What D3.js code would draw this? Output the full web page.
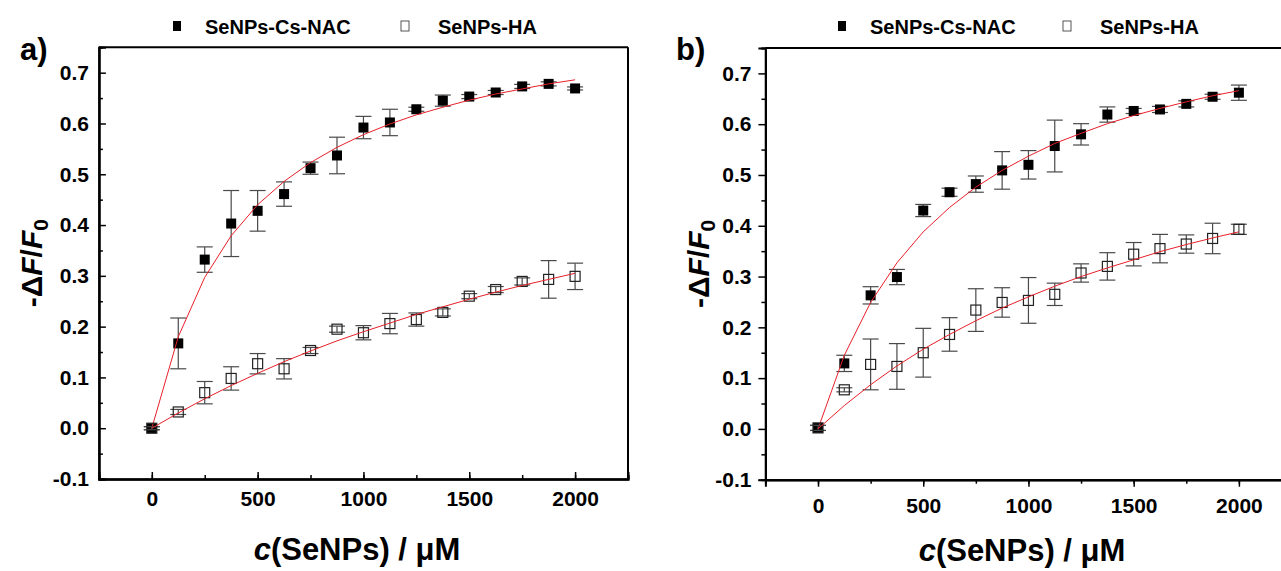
<!DOCTYPE html>
<html>
<head>
<meta charset="utf-8">
<script src="https://cdn.jsdelivr.net/npm/d3@7"></script>
<style>
  body { margin: 0; background: #fff; }
  text { font-family: "Liberation Sans", Arial, sans-serif; font-weight: bold; fill: #000; }
</style>
</head>
<body>
<svg id="chart" width="1281" height="571"></svg>
<script>
// concentrations (µM)
var conc = [0, 125, 250, 375, 500, 625, 750, 875, 1000, 1125, 1250, 1375, 1500, 1625, 1750, 1875, 2000];

// panel a
var nacA    = [0.000, 0.167, 0.332, 0.403, 0.428, 0.461, 0.512, 0.537, 0.592, 0.602, 0.628, 0.645, 0.653, 0.661, 0.673, 0.678, 0.669];
var nacAErr = [0.003, 0.050, 0.025, 0.065, 0.040, 0.024, 0.012, 0.036, 0.022, 0.026, 0.004, 0.011, 0.004, 0.004, 0.004, 0.004, 0.003];
var haA     = [0.000, 0.032, 0.070, 0.098, 0.127, 0.117, 0.153, 0.195, 0.188, 0.206, 0.214, 0.228, 0.260, 0.273, 0.289, 0.293, 0.299];
var haAErr  = [0.003, 0.005, 0.022, 0.023, 0.020, 0.020, 0.006, 0.006, 0.014, 0.020, 0.013, 0.007, 0.005, 0.006, 0.007, 0.037, 0.026];
var fitNacA = [0, 0.180, 0.297, 0.379, 0.440, 0.486, 0.523, 0.553, 0.578, 0.599, 0.617, 0.632, 0.646, 0.658, 0.668, 0.678, 0.686];
var fitHaA  = [0, 0.030, 0.058, 0.084, 0.108, 0.131, 0.152, 0.172, 0.190, 0.207, 0.224, 0.239, 0.254, 0.268, 0.281, 0.293, 0.305];

// panel b
var nacB    = [0.002, 0.129, 0.263, 0.299, 0.430, 0.466, 0.482, 0.509, 0.520, 0.557, 0.580, 0.619, 0.626, 0.629, 0.640, 0.654, 0.662];
var nacBErr = [0.005, 0.016, 0.017, 0.015, 0.012, 0.008, 0.016, 0.037, 0.028, 0.051, 0.021, 0.015, 0.005, 0.006, 0.006, 0.005, 0.015];
var haB     = [0.002, 0.077, 0.127, 0.123, 0.150, 0.186, 0.234, 0.249, 0.253, 0.265, 0.307, 0.320, 0.344, 0.355, 0.364, 0.375, 0.393];
var haBErr  = [0.005, 0.004, 0.050, 0.045, 0.048, 0.033, 0.042, 0.029, 0.045, 0.022, 0.018, 0.027, 0.023, 0.028, 0.018, 0.030, 0.010];
var fitNacB = [0, 0.145, 0.249, 0.327, 0.388, 0.436, 0.476, 0.509, 0.537, 0.562, 0.582, 0.601, 0.617, 0.631, 0.644, 0.656, 0.666];
var fitHaB  = [0, 0.046, 0.087, 0.124, 0.157, 0.186, 0.213, 0.238, 0.260, 0.281, 0.300, 0.317, 0.333, 0.349, 0.363, 0.376, 0.388];

var xTicks = [0, 500, 1000, 1500, 2000];
var yTicks = [-0.1, 0.0, 0.1, 0.2, 0.3, 0.4, 0.5, 0.6, 0.7];
var legendNames = ["SeNPs-Cs-NAC", "SeNPs-HA"];

var svg = d3.select("#chart");

// plain hyphen for negatives, like the original
function fmtY(d) { return d3.format(".1f")(d).replace("−", "-"); }

function drawPanel(p) {
    var x = d3.scaleLinear().domain([-250, 2250]).range([p.left, p.right]);
    var y = d3.scaleLinear().domain([-0.1, 0.75]).range([p.bottom, p.top]);
    var g = svg.append("g");
    var tk = p.inward ? -7 : 7, tkm = p.inward ? -4 : 4;

    // x axis
    g.append("g").attr("transform", "translate(0," + p.bottom + ")")
        .call(d3.axisBottom(x).tickValues(d3.range(-250, 2251, 250)).tickSize(tkm).tickFormat(""));
    g.append("g").attr("transform", "translate(0," + p.bottom + ")")
        .call(d3.axisBottom(x).tickValues(xTicks).tickSize(tk).tickFormat(""));
    g.append("g").attr("transform", "translate(0," + p.bottom + ")")
        .call(d3.axisBottom(x).tickValues(xTicks).tickSize(0).tickPadding(p.inward ? 12 : 18).tickFormat(d3.format("d")));

    // y axis
    g.append("g").attr("transform", "translate(" + p.left + ",0)")
        .call(d3.axisLeft(y).tickValues(d3.range(-0.05, 0.751, 0.1)).tickSize(tkm).tickFormat(""));
    g.append("g").attr("transform", "translate(" + p.left + ",0)")
        .call(d3.axisLeft(y).tickValues(yTicks).tickSize(tk).tickFormat(""));
    g.append("g").attr("transform", "translate(" + p.left + ",0)")
        .call(d3.axisLeft(y).tickValues(yTicks).tickSize(0).tickPadding(p.inward ? 10 : 14).tickFormat(fmtY));

    g.selectAll(".domain").attr("stroke", "#000").attr("stroke-width", 2);
    g.selectAll(".tick line").attr("stroke", "#000").attr("stroke-width", 1.5);
    g.selectAll(".tick text").style("font-size", "21px").attr("fill", "#000");

    // frame top / right
    g.append("line").attr("x1", p.left).attr("x2", p.right).attr("y1", p.top).attr("y2", p.top)
        .attr("stroke", "#000").attr("stroke-width", 2);
    g.append("line").attr("x1", p.right).attr("x2", p.right).attr("y1", p.top).attr("y2", p.bottom)
        .attr("stroke", "#000").attr("stroke-width", 2);

    var series = [
        {v: p.nac, e: p.nacErr, fit: p.fitNac, filled: true},
        {v: p.ha, e: p.haErr, fit: p.fitHa, filled: false}
    ];

    series.forEach(function(s) {
        var pts = conc.map(function(c, i) { return {c: c, v: s.v[i], e: s.e[i]}; });
        var eb = g.append("g").attr("stroke", "#4a4a4a").attr("stroke-width", 1.2);
        pts.forEach(function(d) {
            eb.append("line").attr("x1", x(d.c)).attr("x2", x(d.c)).attr("y1", y(d.v - d.e)).attr("y2", y(d.v + d.e));
            [d.v - d.e, d.v + d.e].forEach(function(yy) {
                eb.append("line").attr("x1", x(d.c) - 8).attr("x2", x(d.c) + 8).attr("y1", y(yy)).attr("y2", y(yy));
            });
        });
        g.selectAll(null).data(pts).enter().append("rect")
            .attr("x", function(d) { return x(d.c) - 5; })
            .attr("y", function(d) { return y(d.v) - 5; })
            .attr("width", 10).attr("height", 10)
            .attr("fill", s.filled ? "#000" : "none")
            .attr("stroke", s.filled ? "none" : "#222").attr("stroke-width", 1.2);
        var line = d3.line().x(function(d, i) { return x(conc[i]); }).y(function(d) { return y(d); });
        g.append("path").datum(s.fit).attr("d", line)
            .attr("fill", "none").attr("stroke", "#e8202a").attr("stroke-width", 1);
    });

    // legend
    g.append("rect").attr("x", p.leg[0] - 4).attr("y", 21).attr("width", 8).attr("height", 10).attr("fill", "#000");
    g.append("text").attr("x", p.leg[1]).attr("y", 34).style("font-size", "20px").text(legendNames[0]);
    g.append("rect").attr("x", p.leg[2] - 4).attr("y", 21).attr("width", 8).attr("height", 10)
        .attr("fill", "none").attr("stroke", "#555").attr("stroke-width", 1);
    g.append("text").attr("x", p.leg[3]).attr("y", 34).style("font-size", "20px").text(legendNames[1]);

    // panel label
    g.append("text").attr("x", p.labelX).attr("y", 60).style("font-size", "31px").text(p.label);

    // axis titles
    var xt = g.append("text").attr("x", p.xTitleX).attr("y", p.xTitleY)
        .attr("text-anchor", "middle").style("font-size", "31px");
    xt.append("tspan").style("font-style", "italic").text("c");
    xt.append("tspan").text("(SeNPs) / μM");

    var yt = g.append("text")
        .attr("transform", "translate(" + p.yTitleX + "," + ((p.top + p.bottom) / 2) + ") rotate(-90)")
        .attr("text-anchor", "middle").style("font-size", "30px");
    yt.append("tspan").text("-Δ");
    yt.append("tspan").style("font-style", "italic").text("F");
    yt.append("tspan").text("/");
    yt.append("tspan").style("font-style", "italic").text("F");
    yt.append("tspan").attr("dy", 6).style("font-size", "21px").text("0");
}

drawPanel({
    left: 98.9, right: 628, top: 47.3, bottom: 479, inward: true,
    nac: nacA, nacErr: nacAErr, ha: haA, haErr: haAErr, fitNac: fitNacA, fitHa: fitHaA,
    leg: [177, 205, 405, 438], label: "a)", labelX: 20, xTitleX: 357, xTitleY: 560, yTitleX: 42
});
drawPanel({
    left: 765.4, right: 1291.5, top: 48, bottom: 479.7, inward: false,
    nac: nacB, nacErr: nacBErr, ha: haB, haErr: haBErr, fitNac: fitNacB, fitHa: fitHaB,
    leg: [842, 870, 1067, 1100], label: "b)", labelX: 676, xTitleX: 1022, xTitleY: 561, yTitleX: 709
});
</script>
</body>
</html>
